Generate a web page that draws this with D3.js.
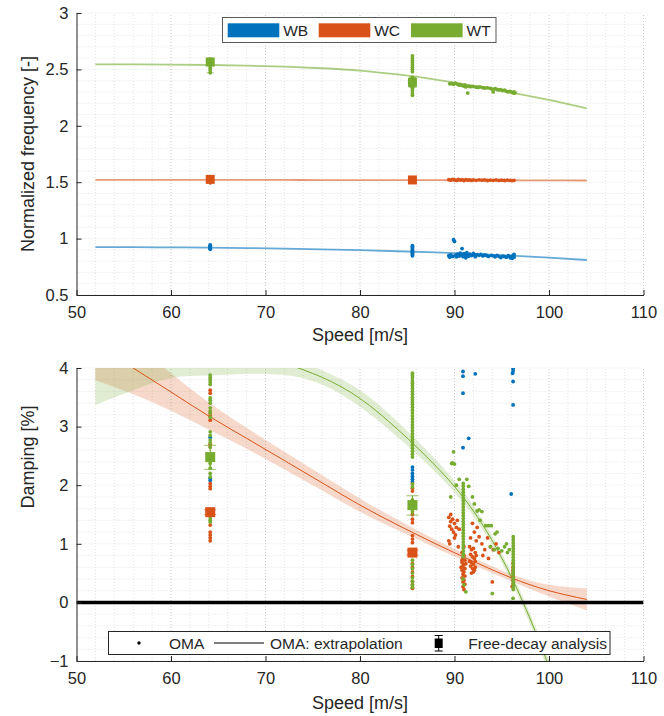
<!DOCTYPE html>
<html><head><meta charset="utf-8">
<script src="https://cdn.jsdelivr.net/npm/d3@7"></script>
<style>
body{margin:0;background:#fff}
svg{display:block}
text{font-family:"Liberation Sans",Arial,Helvetica,sans-serif;fill:#262626}
</style>
</head><body>
<svg id="chart" width="664" height="716"></svg>
<script>
// ---- mode names and colours ----
const modes = ["WB", "WC", "WT"];
const modeColors = {WB: "#0072BD", WC: "#D95319", WT: "#77AC30"};

// ---- axis ticks ----
const speedTicks = [50, 60, 70, 80, 90, 100, 110];
const freqTicks = [0.5, 1, 1.5, 2, 2.5, 3];
const dampTicks = [-1, 0, 1, 2, 3, 4];

// ---- extrapolation fits (speed samples) ----
const fitSpeed = [52, 56, 60, 64, 68, 72, 76, 80, 84, 88, 92, 96, 100, 104];
const fitFreqWB = [0.925, 0.924, 0.922, 0.92, 0.916, 0.911, 0.905, 0.897, 0.888, 0.877, 0.864, 0.849, 0.831, 0.81];
const fitFreqWC = [1.521, 1.521, 1.521, 1.52, 1.52, 1.52, 1.519, 1.519, 1.518, 1.518, 1.517, 1.517, 1.516, 1.515];
const fitFreqWT = [2.545, 2.544, 2.542, 2.539, 2.533, 2.524, 2.51, 2.49, 2.455, 2.41, 2.355, 2.295, 2.23, 2.155];
const fitDampWC = [4.41, 4.0, 3.59, 3.18, 2.8, 2.42, 2.04, 1.66, 1.32, 1.0, 0.7, 0.42, 0.2, 0.05];
const fitDampWCBand = [0.62, 0.45, 0.32, 0.23, 0.18, 0.15, 0.13, 0.115, 0.09, 0.07, 0.06, 0.06, 0.1, 0.19];
const fitDampWT = [4.15, 4.25, 4.31, 4.33, 4.26, 4.08, 3.84, 3.48, 2.95, 2.33, 1.56, 0.44, -1.1, -2.96];
const fitDampWTBand = [0.78, 0.63, 0.48, 0.46, 0.36, 0.2, 0.12, 0.14, 0.13, 0.11, 0.09, 0.08, 0.12, 0.2];

// ---- free-decay analysis: speed, value, lower, upper ----
const fdSpeed = [64.15, 85.55];
const fdFreqWC = [1.525, 1.52], fdFreqWCLo = [1.51, 1.51], fdFreqWCHi = [1.535, 1.53];
const fdFreqWT = [2.565, 2.385], fdFreqWTLo = [2.47, 2.34], fdFreqWTHi = [2.6, 2.43];
const fdDampWC = [1.54, 0.85], fdDampWCLo = [1.5, 0.81], fdDampWCHi = [1.58, 0.89];
const fdDampWT = [2.48, 1.66], fdDampWTLo = [2.27, 1.49], fdDampWTHi = [2.68, 1.82];

// ---- OMA identifications: [speed, normalized frequency] ----
const omaFreqWB = [
  [64.15,0.905],[64.15,0.912],[64.15,0.918],[64.15,0.925],[64.15,0.931],[64.15,0.938],[64.15,0.944],
  [85.55,0.848],[85.55,0.858],[85.55,0.868],[85.55,0.878],[85.55,0.888],[85.55,0.898],[85.55,0.908],[85.55,0.918],[85.55,0.928],[85.55,0.937],
  [89.4,0.848],[89.5,0.835],[89.6,0.856],[89.8,0.842],[89.9,0.99],[90.0,0.975],[90.1,0.852],[90.2,0.838],[90.3,0.862],
  [90.5,0.845],[90.6,0.87],[90.8,0.912],[90.8,0.855],[90.9,0.84],[91.0,0.866],[91.1,0.85],[91.2,0.83],[91.3,0.875],
  [91.4,0.858],[91.5,0.843],[91.6,0.862],[91.8,0.85],[92.0,0.868],[92.1,0.855],[92.2,0.84],[92.4,0.858],[92.6,0.852],
  [92.8,0.86],[93.0,0.846],[93.2,0.855],[93.4,0.85],[93.6,0.842],[93.9,0.852],[94.1,0.847],[94.3,0.838],[94.5,0.85],
  [94.7,0.843],[94.9,0.832],[95.1,0.845],[95.3,0.84],[95.5,0.835],[95.7,0.848],[95.9,0.83],[96.0,0.84],[96.1,0.825],
  [96.2,0.85],[96.3,0.835],[96.3,0.86]
];
const omaFreqWC = [
  [64.15,1.495],[64.15,1.512],[64.15,1.52],[64.15,1.53],
  [85.55,1.51],[85.55,1.52],[85.55,1.53],
  [89.4,1.522],[89.6,1.518],[89.8,1.525],[90.0,1.52],[90.2,1.516],[90.4,1.524],[90.6,1.519],[90.8,1.522],[91.0,1.515],
  [91.2,1.523],[91.4,1.518],[91.6,1.521],[91.8,1.516],[92.0,1.52],[92.3,1.517],[92.6,1.521],[92.9,1.518],[93.2,1.52],
  [93.5,1.515],[93.8,1.519],[94.1,1.517],[94.4,1.52],[94.7,1.516],[95.0,1.518],[95.3,1.515],[95.6,1.519],[95.9,1.516],
  [96.1,1.514],[96.3,1.517]
];
const omaFreqWT = [
  [64.15,2.47],[64.15,2.49],[64.15,2.51],[64.15,2.53],[64.15,2.55],[64.15,2.57],[64.15,2.59],
  [85.55,2.27],[85.55,2.29],[85.55,2.31],[85.55,2.33],[85.55,2.35],[85.55,2.37],[85.55,2.39],[85.55,2.41],[85.55,2.43],
  [85.55,2.48],[85.55,2.5],[85.55,2.52],[85.55,2.54],[85.55,2.56],[85.55,2.58],[85.55,2.6],[85.55,2.62],
  [89.5,2.372],[89.7,2.375],[89.9,2.368],[90.1,2.377],[90.3,2.37],[90.5,2.36],[90.6,2.365],[90.8,2.358],[91.0,2.352],
  [91.1,2.36],[91.2,2.345],[91.4,2.29],[91.5,2.35],[91.7,2.347],[92.0,2.348],[92.3,2.342],[92.5,2.34],[92.7,2.345],
  [93.0,2.338],[93.2,2.335],[93.5,2.337],[93.8,2.332],[94.0,2.325],[94.1,2.3],[94.3,2.33],[94.5,2.322],[94.7,2.318],
  [94.9,2.32],[95.1,2.312],[95.3,2.315],[95.5,2.306],[95.7,2.3],[95.9,2.305],[96.1,2.295],[96.3,2.3],[96.3,2.29],[96.4,2.293]
];

// ---- OMA identifications: [speed, damping %] ----
const omaDampWB = [
  [64.15,2.82],[64.15,2.12],[64.15,2.08],
  [85.55,2.31],[85.55,2.26],[85.55,2.2],[85.55,2.15],[85.55,2.1],[85.55,2.06],
  [90.9,3.94],[90.9,3.86],[90.9,3.57],[90.9,2.64],[91.5,2.8],[92.2,3.9],
  [96.2,3.99],[96.2,3.95],[96.15,3.91],[96.2,3.77],[96.2,3.37],[96.0,1.85]
];
const omaDampWC = [
  [64.15,3.62],[64.15,3.57],[64.15,3.23],[64.15,3.18],[64.15,3.11],[64.15,2.7],[64.15,2.65],[64.15,2.03],
  [64.15,1.98],[64.15,1.94],[64.15,1.32],[64.15,1.2],[64.15,1.15],[64.15,1.1],[64.15,1.05],
  [85.55,2.02],[85.55,1.95],[85.55,1.9],[85.55,1.6],[85.55,1.5],[85.55,1.42],[85.55,1.36],[85.55,1.14],[85.55,1.08],
  [85.55,1.02],[85.55,0.66],[85.55,0.6],[85.55,0.52],[85.55,0.44],[85.55,0.36],[85.55,0.3],[85.55,0.24],
  [89.4,1.45],[89.6,1.38],[89.8,1.42],[89.5,1.3],[89.7,1.25],[90.0,1.35],[90.2,1.28],[89.9,1.2],[90.3,1.4],[90.1,1.15],
  [89.4,1.05],[89.5,1.0],[90.4,0.95],[90.5,1.25],[89.6,1.5],[90.0,1.1],
  [90.8,0.85],[91.0,0.8],[90.9,0.76],[91.1,0.72],[90.8,0.68],[91.0,0.65],[90.9,0.62],[91.1,0.58],[90.8,0.55],
  [91.0,0.52],[90.9,0.48],[91.1,0.45],[90.8,0.42],[91.0,0.38],[90.9,0.35],[91.1,0.31],[90.9,0.27],[91.0,0.22],
  [90.8,0.72],[91.0,0.95],[90.7,0.6],[91.2,0.66],
  [91.6,0.95],[91.8,0.9],[92.0,0.92],[92.2,0.85],[91.7,0.82],[91.9,0.78],[92.1,0.75],[92.3,0.8],[91.6,0.7],
  [91.8,0.68],[92.0,0.65],[92.2,0.7],[91.7,0.62],[91.9,0.58],[92.1,0.55],[91.8,0.5],[92.0,0.52],[92.2,0.6],
  [91.9,1.35],[92.1,1.2],[91.7,1.1],[92.3,1.05],[92.4,1.28],
  [92.6,1.12],[92.9,1.0],[93.2,0.9],[93.5,1.1],[93.8,0.95],[94.1,0.9],[94.4,1.0],[94.7,0.85],[93.0,0.8],[94.0,0.35],[93.6,0.75],
  [96.2,0.67],[96.2,0.6],[96.2,0.55],[96.2,0.5],[96.2,0.44],[96.2,0.38],[96.2,0.32],[96.1,0.27]
];
const omaDampWT = [
  [64.15,3.88],[64.15,3.84],[64.15,3.8],[64.15,3.76],[64.15,3.72],[64.15,3.49],[64.15,3.45],[64.15,3.4],[64.15,3.32],
  [64.15,3.27],[64.15,3.23],[64.15,3.16],[64.15,2.91],[64.15,2.85],[64.15,2.77],[64.15,2.72],[64.15,2.65],[64.15,2.37],
  [64.15,2.29],[64.15,2.2],[64.15,2.14],[64.15,1.44],[64.15,1.4],[64.15,1.37],
  [85.55,3.91],[85.55,3.87],[85.55,3.83],[85.55,3.78],[85.55,3.74],[85.55,3.7],[85.55,3.65],[85.55,3.6],[85.55,3.55],
  [85.55,3.5],[85.55,3.46],[85.55,3.42],[85.55,3.38],[85.55,3.33],[85.55,3.28],[85.55,3.23],[85.55,3.18],[85.55,3.13],
  [85.55,3.08],[85.55,3.03],[85.55,2.98],[85.55,2.93],[85.55,2.88],[85.55,2.83],[85.55,2.78],[85.55,2.73],[85.55,2.68],
  [85.55,2.63],[85.55,2.58],[85.55,2.53],[85.55,2.48],[85.55,2.02],[85.55,1.97],[85.55,1.75],[85.55,1.6],[85.55,1.55],
  [85.55,0.72],[85.55,0.65],[85.55,0.58],[85.55,0.5],[85.55,0.42],[85.55,0.36],[85.55,0.3],[85.55,0.26],
  [89.9,2.57],[89.7,2.37],[89.8,2.38],[90.0,2.36],[89.6,1.8],[90.2,2.0],[90.5,2.1],[91.3,2.1],[91.5,1.98],
  [90.93,2.03],[90.93,1.98],[90.93,1.93],[90.93,1.88],[90.93,1.83],[90.93,1.78],[90.93,1.73],[90.93,1.68],[90.93,1.63],
  [90.93,1.58],[90.93,1.53],[90.93,1.48],[90.93,1.43],[90.93,1.38],[90.93,1.33],[90.93,1.28],[90.93,1.23],[90.93,1.18],
  [90.93,1.13],[90.93,1.08],[90.93,1.03],[90.93,0.98],[90.93,0.93],[90.93,0.88],[90.93,0.83],[90.93,0.78],
  [91.2,0.18],[90.9,0.4],[91.0,0.3],
  [91.9,1.8],[92.1,1.68],[92.4,1.56],[92.6,1.58],[92.9,1.55],[92.7,1.4],[93.3,1.31],[93.6,1.31],[93.9,1.31],[94.3,1.17],
  [94.5,1.2],[93.8,0.95],[94.2,0.9],[94.6,0.92],[95.0,0.88],[95.3,0.95],[95.6,0.85],[94.0,0.15],[95.5,1.0],[95.8,0.9],
  [96.22,1.12],[96.22,1.07],[96.22,1.02],[96.22,0.97],[96.22,0.92],[96.22,0.87],[96.22,0.82],[96.22,0.77],[96.22,0.72],
  [96.22,0.67],[96.22,0.62],[96.22,0.57],[96.22,0.52],[96.22,0.47],[96.22,0.42],[96.22,0.37],[96.22,0.32],[96.22,0.27],
  [96.22,0.22],[96.2,0.07]
];

// ---- drawing ----
const svg = d3.select("#chart");
const x = d3.scaleLinear().domain([50, 110]).range([76.5, 643.5]);
const yTop = d3.scaleLinear().domain([0.5, 3]).range([295, 13]);
const yBot = d3.scaleLinear().domain([-1, 4]).range([661, 368]);
const smooth = d3.curveNatural;

function grid(g, y, yMinorStep, yDomain) {
  const [x0, x1] = x.range();
  const [yb, yt] = y.range();
  const xMinor = d3.range(50, 110.001, 2).filter(v => v % 10 !== 0);
  const yMinor = d3.range(yDomain[0], yDomain[1] + 1e-9, yMinorStep)
    .map(v => +v.toFixed(3));
  const gg = g.append("g");
  gg.selectAll(".vx").data(xMinor).join("line")
    .attr("x1", d => x(d)).attr("x2", d => x(d)).attr("y1", yb).attr("y2", yt)
    .attr("stroke", "#dcdcdc").attr("stroke-width", 0.8).attr("stroke-dasharray", "1,2");
  gg.selectAll(".hy").data(yMinor).join("line")
    .attr("x1", x0).attr("x2", x1).attr("y1", d => y(d)).attr("y2", d => y(d))
    .attr("stroke", "#dcdcdc").attr("stroke-width", 0.8).attr("stroke-dasharray", "1,2");
  gg.selectAll(".vmx").data(speedTicks.slice(1)).join("line")
    .attr("x1", d => x(d)).attr("x2", d => x(d)).attr("y1", yb).attr("y2", yt)
    .attr("stroke", "#c4c4c4").attr("stroke-width", 0.9).attr("stroke-dasharray", "1,2");
}

function axes(g, y, yTicks, yFmt, labelY, xLabelBaseline, yLabelCenter) {
  const [yb] = y.range();
  g.append("g").attr("transform", `translate(0,${yb})`)
    .call(d3.axisBottom(x).tickValues(speedTicks).tickSizeInner(-5).tickSizeOuter(0).tickPadding(11))
    .call(a => a.select(".domain").attr("stroke", "#262626"))
    .call(a => a.selectAll(".tick line").attr("stroke", "#262626"))
    .call(a => a.selectAll("text").attr("font-size", 16.5).attr("fill", "#262626"));
  g.append("g").attr("transform", `translate(${x.range()[0]},0)`)
    .call(d3.axisLeft(y).tickValues(yTicks).tickFormat(yFmt).tickSizeInner(-5).tickSizeOuter(0).tickPadding(8))
    .call(a => a.select(".domain").attr("stroke", "#262626"))
    .call(a => a.selectAll(".tick line").attr("stroke", "#262626"))
    .call(a => a.selectAll("text").attr("font-size", 16.5).attr("fill", "#262626"));
  g.append("text").attr("x", d3.mean(x.range())).attr("y", xLabelBaseline)
    .attr("text-anchor", "middle").attr("font-size", 18).text("Speed [m/s]");
  g.append("text").attr("transform", `translate(34,${yLabelCenter}) rotate(-90)`)
    .attr("text-anchor", "middle").attr("font-size", 18).text(labelY);
}

function dots(g, data, y, color) {
  g.append("g").selectAll("circle").data(data).join("circle")
    .attr("cx", d => x(d[0])).attr("cy", d => y(d[1])).attr("r", 1.9).attr("fill", color);
}

function freeDecay(g, y, vals, lo, hi, color, size, cap) {
  const gg = g.append("g");
  fdSpeed.forEach((s, i) => {
    const cx = x(s);
    gg.append("line").attr("x1", cx).attr("x2", cx).attr("y1", y(lo[i])).attr("y2", y(hi[i]))
      .attr("stroke", color).attr("stroke-width", 1.2);
    [lo[i], hi[i]].forEach(v => gg.append("line")
      .attr("x1", cx - cap / 2).attr("x2", cx + cap / 2).attr("y1", y(v)).attr("y2", y(v))
      .attr("stroke", color).attr("stroke-width", 1).attr("opacity", 0.7));
    gg.append("rect").attr("x", cx - size / 2).attr("y", y(vals[i]) - size / 2)
      .attr("width", size).attr("height", size).attr("fill", color);
  });
}

// ===== Upper panel: normalized frequency =====
const freqPanel = svg.append("g");
grid(freqPanel, yTop, 0.1, [0.5, 3]);
const fitTop = {WB: fitFreqWB, WC: fitFreqWC, WT: fitFreqWT};
modes.forEach(m => {
  const line = d3.line().x((d, i) => x(fitSpeed[i])).y(d => yTop(d)).curve(smooth);
  freqPanel.append("path").attr("d", line(fitTop[m])).attr("fill", "none")
    .attr("stroke", modeColors[m]).attr("stroke-width", 1.8).attr("opacity", 0.6);
});
dots(freqPanel, omaFreqWB, yTop, modeColors.WB);
dots(freqPanel, omaFreqWC, yTop, modeColors.WC);
dots(freqPanel, omaFreqWT, yTop, modeColors.WT);
freeDecay(freqPanel, yTop, fdFreqWC, fdFreqWCLo, fdFreqWCHi, modeColors.WC, 9, 7);
freeDecay(freqPanel, yTop, fdFreqWT, fdFreqWTLo, fdFreqWTHi, modeColors.WT, 9, 7);
axes(freqPanel, yTop, freqTicks, d3.format("~g"), "Normalized frequency [-]", 341, 154);

// upper legend
const lg = freqPanel.append("g");
lg.append("rect").attr("x", 222.5).attr("y", 17.5).attr("width", 273.5).attr("height", 25)
  .attr("fill", "#fff").attr("stroke", "#595959").attr("stroke-width", 1);
const lgX = {WB: 227.7, WC: 318.7, WT: 411};
modes.forEach(m => {
  lg.append("rect").attr("x", lgX[m]).attr("y", 23.3).attr("width", 51.6).attr("height", 14)
    .attr("fill", modeColors[m]);
  lg.append("text").attr("x", lgX[m] + 55.5).attr("y", 36).attr("font-size", 15.5).attr("fill", "#000").text(m);
});

// ===== Lower panel: damping =====
const dampPanel = svg.append("g");
grid(dampPanel, yBot, 0.2, [-1, 4]);
svg.append("defs").append("clipPath").attr("id", "botClip")
  .append("rect").attr("x", x(50)).attr("y", yBot(4)).attr("width", x(110) - x(50)).attr("height", yBot(-1) - yBot(4));
const plotArea = dampPanel.append("g").attr("clip-path", "url(#botClip)");
const fits = [
  {m: "WC", c: fitDampWC, b: fitDampWCBand},
  {m: "WT", c: fitDampWT, b: fitDampWTBand}
];
fits.forEach(f => {
  const area = d3.area().x((d, i) => x(fitSpeed[i]))
    .y0((d, i) => yBot(d - f.b[i])).y1((d, i) => yBot(d + f.b[i])).curve(smooth);
  plotArea.append("path").attr("d", area(f.c)).attr("fill", modeColors[f.m]).attr("opacity", 0.22);
});
fits.forEach(f => {
  const line = d3.line().x((d, i) => x(fitSpeed[i])).y(d => yBot(d)).curve(smooth);
  plotArea.append("path").attr("d", line(f.c)).attr("fill", "none")
    .attr("stroke", modeColors[f.m]).attr("stroke-width", 1);
});
plotArea.append("line").attr("x1", x(50)).attr("x2", x(110)).attr("y1", yBot(0)).attr("y2", yBot(0))
  .attr("stroke", "#000").attr("stroke-width", 3.5);
dots(plotArea, omaDampWB, yBot, modeColors.WB);
dots(plotArea, omaDampWC, yBot, modeColors.WC);
dots(plotArea, omaDampWT, yBot, modeColors.WT);
freeDecay(plotArea, yBot, fdDampWC, fdDampWCLo, fdDampWCHi, modeColors.WC, 10, 12);
freeDecay(plotArea, yBot, fdDampWT, fdDampWTLo, fdDampWTHi, modeColors.WT, 10, 12);
axes(dampPanel, yBot, dampTicks, d3.format("~g"), "Damping [%]", 709, 457);

// lower legend
const lb = dampPanel.append("g");
lb.append("rect").attr("x", 108.5).attr("y", 631.5).attr("width", 501.5).attr("height", 23)
  .attr("fill", "#fff").attr("stroke", "#262626").attr("stroke-width", 1);
lb.append("circle").attr("cx", 139).attr("cy", 643).attr("r", 1.7).attr("fill", "#000");
lb.append("text").attr("x", 169).attr("y", 648.5).attr("font-size", 15.5).attr("fill", "#000").text("OMA");
lb.append("line").attr("x1", 214).attr("x2", 264).attr("y1", 643).attr("y2", 643).attr("stroke", "#000").attr("stroke-width", 1);
lb.append("text").attr("x", 270).attr("y", 648.5).attr("font-size", 15.5).attr("fill", "#000").text("OMA: extrapolation");
lb.append("line").attr("x1", 438.7).attr("x2", 438.7).attr("y1", 635.5).attr("y2", 651).attr("stroke", "#000");
[635.5, 651].forEach(v => lb.append("line").attr("x1", 434.7).attr("x2", 442.7).attr("y1", v).attr("y2", v).attr("stroke", "#000"));
lb.append("rect").attr("x", 434.7).attr("y", 638.5).attr("width", 8).attr("height", 9.5).attr("fill", "#000");
lb.append("text").attr("x", 468.3).attr("y", 648.5).attr("font-size", 15.5).attr("fill", "#000").text("Free-decay analysis");
</script>
</body></html>
